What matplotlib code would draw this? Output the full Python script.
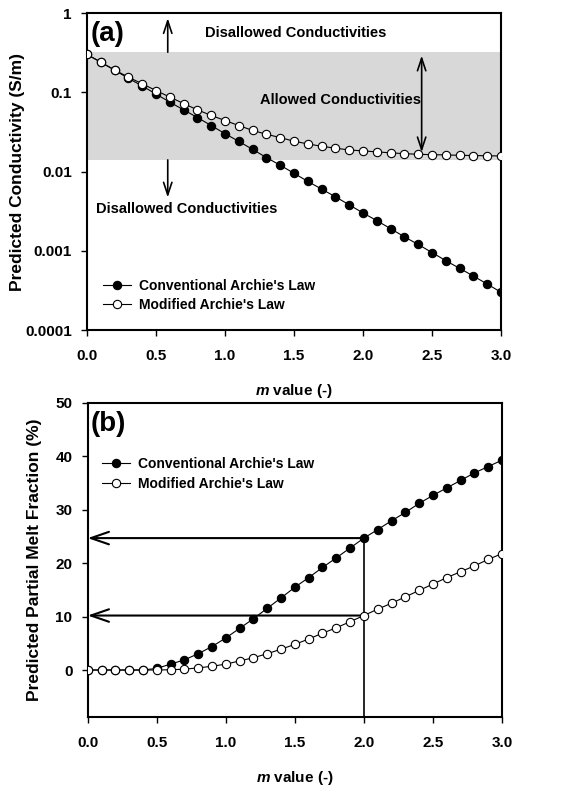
import matplotlib.pyplot as plt
import numpy as np

plt.rcParams['font.family'] = ['Liberation Sans', 'DejaVu Sans']
plt.rcParams['font.weight'] = 'bold'
plt.rcParams['axes.labelweight'] = 'bold'
plt.rcParams['mathtext.fontset'] = 'custom'
plt.rcParams['mathtext.it'] = 'Liberation Sans:italic:bold'
plt.rcParams['mathtext.rm'] = 'Liberation Sans:bold'
plt.rcParams['hatch.color'] = '#a8a8a8'
plt.rcParams['hatch.linewidth'] = 0.6

# data
m_values = np.linspace(0, 3, 31)

cond_conventional = [0.30, 0.24, 0.19, 0.15, 0.12, 0.095, 0.075, 0.060, 0.048, 0.038,
                     0.030, 0.024, 0.019, 0.015, 0.012, 0.0095, 0.0075, 0.0060, 0.0048, 0.0038,
                     0.0030, 0.0024, 0.0019, 0.0015, 0.0012, 0.00095, 0.00075, 0.00060, 0.00048, 0.00038,
                     0.00030]
cond_modified = [0.30, 0.239, 0.191, 0.155, 0.128, 0.105, 0.087, 0.072, 0.060, 0.051,
                 0.044, 0.038, 0.033, 0.0295, 0.0268, 0.0241, 0.0223, 0.0208, 0.0197, 0.0187,
                 0.0182, 0.0177, 0.0172, 0.0168, 0.0165, 0.0163, 0.0162, 0.0160, 0.0159, 0.0158,
                 0.0157]

melt_conventional = [0, 0, 0, 0, 0, 0.3, 1.1, 1.9, 3.05, 4.4,
                     6.0, 7.8, 9.6, 11.55, 13.5, 15.5, 17.3, 19.2, 21.0, 22.85,
                     24.7, 26.3, 27.95, 29.5, 31.2, 32.7, 34.1, 35.5, 36.9, 38.1,
                     39.3]
melt_modified = [0, 0, 0, 0, 0, 0, 0.05, 0.15, 0.4, 0.7,
                 1.1, 1.7, 2.3, 3.05, 3.9, 4.8, 5.8, 6.9, 7.9, 9.05,
                 10.2, 11.4, 12.5, 13.7, 14.9, 16.1, 17.3, 18.4, 19.5, 20.7,
                 21.8]

allowed_low, allowed_high = 0.014, 0.32
m_pick = 2.0
melt_pick_conv = 24.7
melt_pick_mod = 10.2

labels = ["Conventional Archie's Law", "Modified Archie's Law"]
cond_ticks = [1, 0.1, 0.01, 0.001, 0.0001]
cond_ticklabels = ['1', '0.1', '0.01', '0.001', '0.0001']
x_ticks = [0.0, 0.5, 1.0, 1.5, 2.0, 2.5, 3.0]

fig = plt.figure(figsize=(5.74, 7.88), dpi=100)
ax1 = fig.add_axes([0.1516, 0.5812, 0.7212, 0.4023])
ax2 = fig.add_axes([0.1528, 0.0901, 0.7218, 0.3985])

line_kw = dict(color='black', lw=0.8, markersize=6, markeredgewidth=0.8)

# (a) conductivity
ax1.axhspan(allowed_low, allowed_high, facecolor='#d8d8d8', edgecolor='none',
            hatch='.....', lw=0, zorder=0)
ax1.plot(m_values, cond_conventional, marker='o', mfc='black', mec='black',
         label=labels[0], zorder=3, **line_kw)
ax1.plot(m_values, cond_modified, marker='o', mfc='white', mec='black',
         label=labels[1], zorder=4, **line_kw)
ax1.set_yscale('log')
ax1.set_ylim(0.0001, 1)
ax1.set_xlim(0, 3)
ax1.set_yticks(cond_ticks)
ax1.set_yticklabels(cond_ticklabels)
ax1.yaxis.set_minor_locator(plt.NullLocator())

arr = dict(arrowstyle='->,head_length=0.9,head_width=0.3', color='black', lw=1.2,
           shrinkA=0, shrinkB=0)
ax1.annotate('', xy=(0.585, 0.86), xytext=(0.585, allowed_high), arrowprops=arr)
ax1.annotate('', xy=(0.585, 0.0047), xytext=(0.585, allowed_low), arrowprops=arr)
ax1.annotate('', xy=(2.425, 0.29), xytext=(2.425, 0.0175),
             arrowprops=dict(arr, arrowstyle='<->,head_length=0.9,head_width=0.3'))
ax1.text(0.855, 0.56, 'Disallowed Conductivities', fontsize=10.5, va='center', ha='left')
ax1.text(1.84, 0.08, 'Allowed Conductivities', fontsize=10.5, va='center', ha='center')
ax1.text(0.065, 0.0034, 'Disallowed Conductivities', fontsize=10.5, va='center', ha='left')
ax1.text(0.008, 0.975, '(a)', fontsize=20, transform=ax1.transAxes, va='top', ha='left')
ax1.set_ylabel('Predicted Conductivity (S/m)', fontsize=12.5)
ax1.yaxis.set_label_coords(-0.15, 0.5)
ax1.legend(loc='upper left', bbox_to_anchor=(0.039, 0.16), frameon=False, fontsize=10,
           borderpad=0, borderaxespad=0, handlelength=2.0, handletextpad=0.6,
           labelspacing=0.35)

# (b) melt fraction
ax2.plot(m_values, melt_conventional, marker='o', mfc='black', mec='black',
         label=labels[0], zorder=3, **line_kw)
ax2.plot(m_values, melt_modified, marker='o', mfc='white', mec='black',
         label=labels[1], zorder=4, **line_kw)
ax2.set_xlim(0, 3)
ax2.set_ylim(-8.8, 50)
ax2.set_yticks([0, 10, 20, 30, 40, 50])
ax2.plot([m_pick, m_pick], [-8.8, melt_pick_conv], color='black', lw=1.2, zorder=2)
harr = dict(arrowstyle='->,head_length=1.3,head_width=0.45', color='black', lw=1.5,
            shrinkA=0, shrinkB=0)
ax2.annotate('', xy=(0, melt_pick_conv), xytext=(m_pick, melt_pick_conv), arrowprops=harr)
ax2.annotate('', xy=(0, melt_pick_mod), xytext=(m_pick, melt_pick_mod), arrowprops=harr)
ax2.text(0.008, 0.975, '(b)', fontsize=20, transform=ax2.transAxes, va='top', ha='left')
ax2.set_ylabel('Predicted Partial Melt Fraction (%)', fontsize=12.5)
ax2.yaxis.set_label_coords(-0.11, 0.5)
ax2.legend(loc='upper left', bbox_to_anchor=(0.035, 0.828), frameon=False, fontsize=10,
           borderpad=0, borderaxespad=0, handlelength=2.0, handletextpad=0.6,
           labelspacing=0.4)

for ax in (ax1, ax2):
    ax.set_xticks(x_ticks)
    ax.set_xticklabels(['%.1f' % t for t in x_ticks])
    ax.set_xlabel('$m$ value (-)', fontsize=11, labelpad=13)
    ax.tick_params(axis='x', direction='out', length=4, width=1, pad=10, labelsize=11)
    ax.tick_params(axis='y', direction='out', length=4, width=1, pad=7, labelsize=11)
    for s in ax.spines.values():
        s.set_linewidth(1.5)

fig.savefig('out.png', dpi=100)
